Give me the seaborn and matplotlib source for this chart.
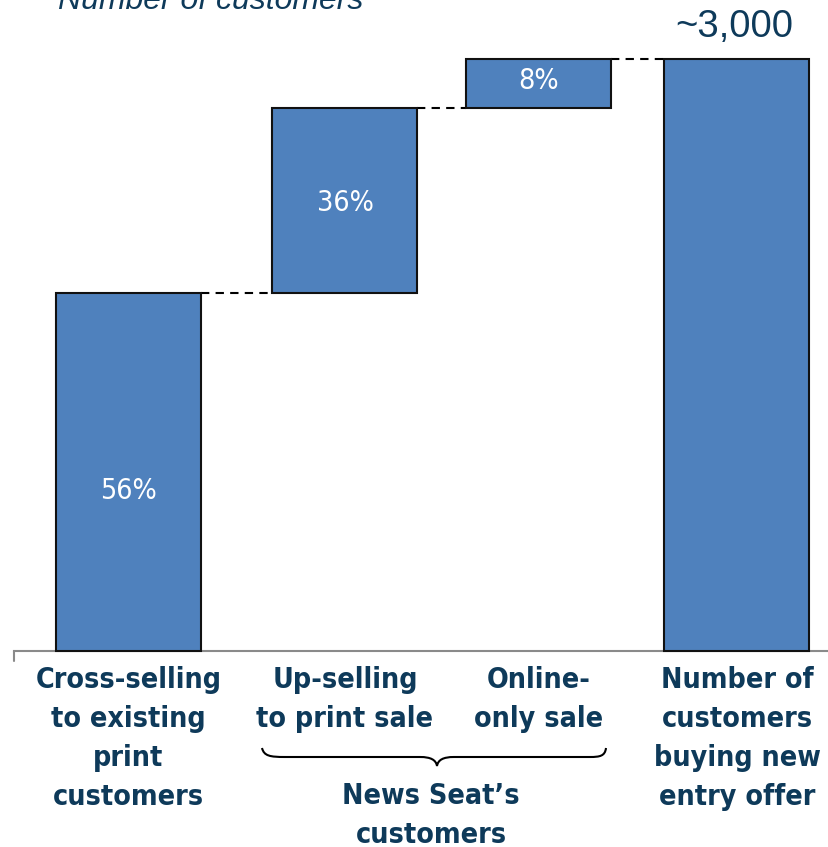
import matplotlib
matplotlib.use("Agg")
import matplotlib.pyplot as plt
from matplotlib.path import Path
from matplotlib.patches import PathPatch
import seaborn as sns
import pandas as pd

# ---- data ----
categories = ["Cross-selling\nto existing\nprint\ncustomers",
              "Up-selling\nto print sale",
              "Online-\nonly sale",
              "Number of\ncustomers\nbuying new\nentry offer"]
steps = [1815, 935, 250]          # customers per step (waterfall increments)
total = 3000                      # ~3,000 customers total
bar_labels = ["56%", "36%", "8%"]
total_label = "~3,000"
title = "Number of customers"
group_label = "News Seat\u2019s\ncustomers"

# ---- layout (pixel-based) ----
W, H = 829, 847
xpos = [128.5, 345, 538.5, 737]   # bar centres in px
bar_w = 145
base_px, top_px = 651, 59
label_dy_pt = [-14, -1.8, 1.8]    # fine vertical offsets of in-bar labels

BLUE = "#4F81BD"
NAVY = "#0E3A5A"
COND = dict(family="DejaVu Sans", fontstretch="condensed")

sns.set_theme(style="white")
plt.rcParams["font.family"] = ["Liberation Sans", "DejaVu Sans"]

fig = plt.figure(figsize=(W / 100, H / 100), dpi=100)
ax = fig.add_axes([14 / W, 1 - base_px / H, 1 - 14 / W, (base_px - top_px) / H])

heights = steps + [total]
bottoms = [0, steps[0], steps[0] + steps[1], 0]
df = pd.DataFrame({"x": xpos, "h": heights, "cat": categories})

min_gap = min(b - a for a, b in zip(xpos[:-1], xpos[1:]))
sns.barplot(data=df, x="x", y="h", native_scale=True, bottom=bottoms,
            color=BLUE, saturation=1, width=bar_w / min_gap,
            edgecolor="#111111", linewidth=1.5, ax=ax, clip_on=False, zorder=3)

ax.set_xlim(14, W)
ax.set_ylim(0, total)
ax.set_xlabel("")
ax.set_ylabel("")
ax.set_yticks([])
ax.set_xticks(xpos, labels=categories)
ax.tick_params(axis="x", length=0, pad=11)
for t in ax.get_xticklabels():
    t.set_fontsize(20.5)
    t.set_family("DejaVu Sans")
    t.set_fontstretch("condensed")
    t.set_fontweight("bold")
    t.set_color(NAVY)
    t.set_linespacing(1.5)
for s in ["top", "right", "left"]:
    ax.spines[s].set_visible(False)
ax.spines["bottom"].set_color("#8a8a8a")
ax.spines["bottom"].set_linewidth(1.5)


def px(x, y):
    return (x / W, 1 - y / H)


# small vertical tick at left end of baseline
fig.add_artist(plt.Line2D([14 / W, 14 / W], [1 - base_px / H, 1 - 661 / H],
                          color="#8a8a8a", lw=1.5, transform=fig.transFigure))

# bar labels
tops = [bottoms[i] + heights[i] for i in range(4)]
for i, lab in enumerate(bar_labels):
    ax.annotate(lab, xy=(xpos[i], bottoms[i] + heights[i] / 2),
                xytext=(0, label_dy_pt[i]), textcoords="offset points",
                ha="center", va="center", color="white", fontsize=20.5,
                zorder=5, **COND)

ax.annotate(total_label, xy=(xpos[3], total), xytext=(-2, 16),
            textcoords="offset points", ha="center", va="baseline",
            color=NAVY, fontsize=27.5, annotation_clip=False)

# dashed connectors
for i in range(3):
    y = tops[i]
    ax.plot([xpos[i] + bar_w / 2, xpos[i + 1] - bar_w / 2], [y, y],
            color="black", lw=1.5, ls=(0, (4, 3)), clip_on=False, zorder=2)

# title (partly cut at top)
fig.text(211 / W, 1 - 9 / H, title, ha="center", va="baseline",
         fontsize=23, style="italic", color=NAVY)

# curly brace under middle two categories
pts = [(262, 748), (264, 756), (270, 757), (285, 757),
       (420, 757),
       (431, 757), (436, 760), (437, 766),
       (438, 760), (443, 757), (454, 757),
       (590, 757),
       (600, 757), (605, 756), (606, 748)]
codes = [Path.MOVETO, Path.CURVE4, Path.CURVE4, Path.CURVE4,
         Path.LINETO,
         Path.CURVE4, Path.CURVE4, Path.CURVE4,
         Path.CURVE4, Path.CURVE4, Path.CURVE4,
         Path.LINETO,
         Path.CURVE4, Path.CURVE4, Path.CURVE4]
brace = Path([px(x, y) for x, y in pts], codes)
fig.add_artist(PathPatch(brace, fill=False, lw=1.5, ec="black",
                         transform=fig.transFigure))

fig.text(431 / W, 1 - 815 / H, group_label, ha="center", va="center",
         fontsize=20.5, fontweight="bold", color=NAVY, linespacing=1.5, **COND)

fig.savefig("out.png", dpi=100)
